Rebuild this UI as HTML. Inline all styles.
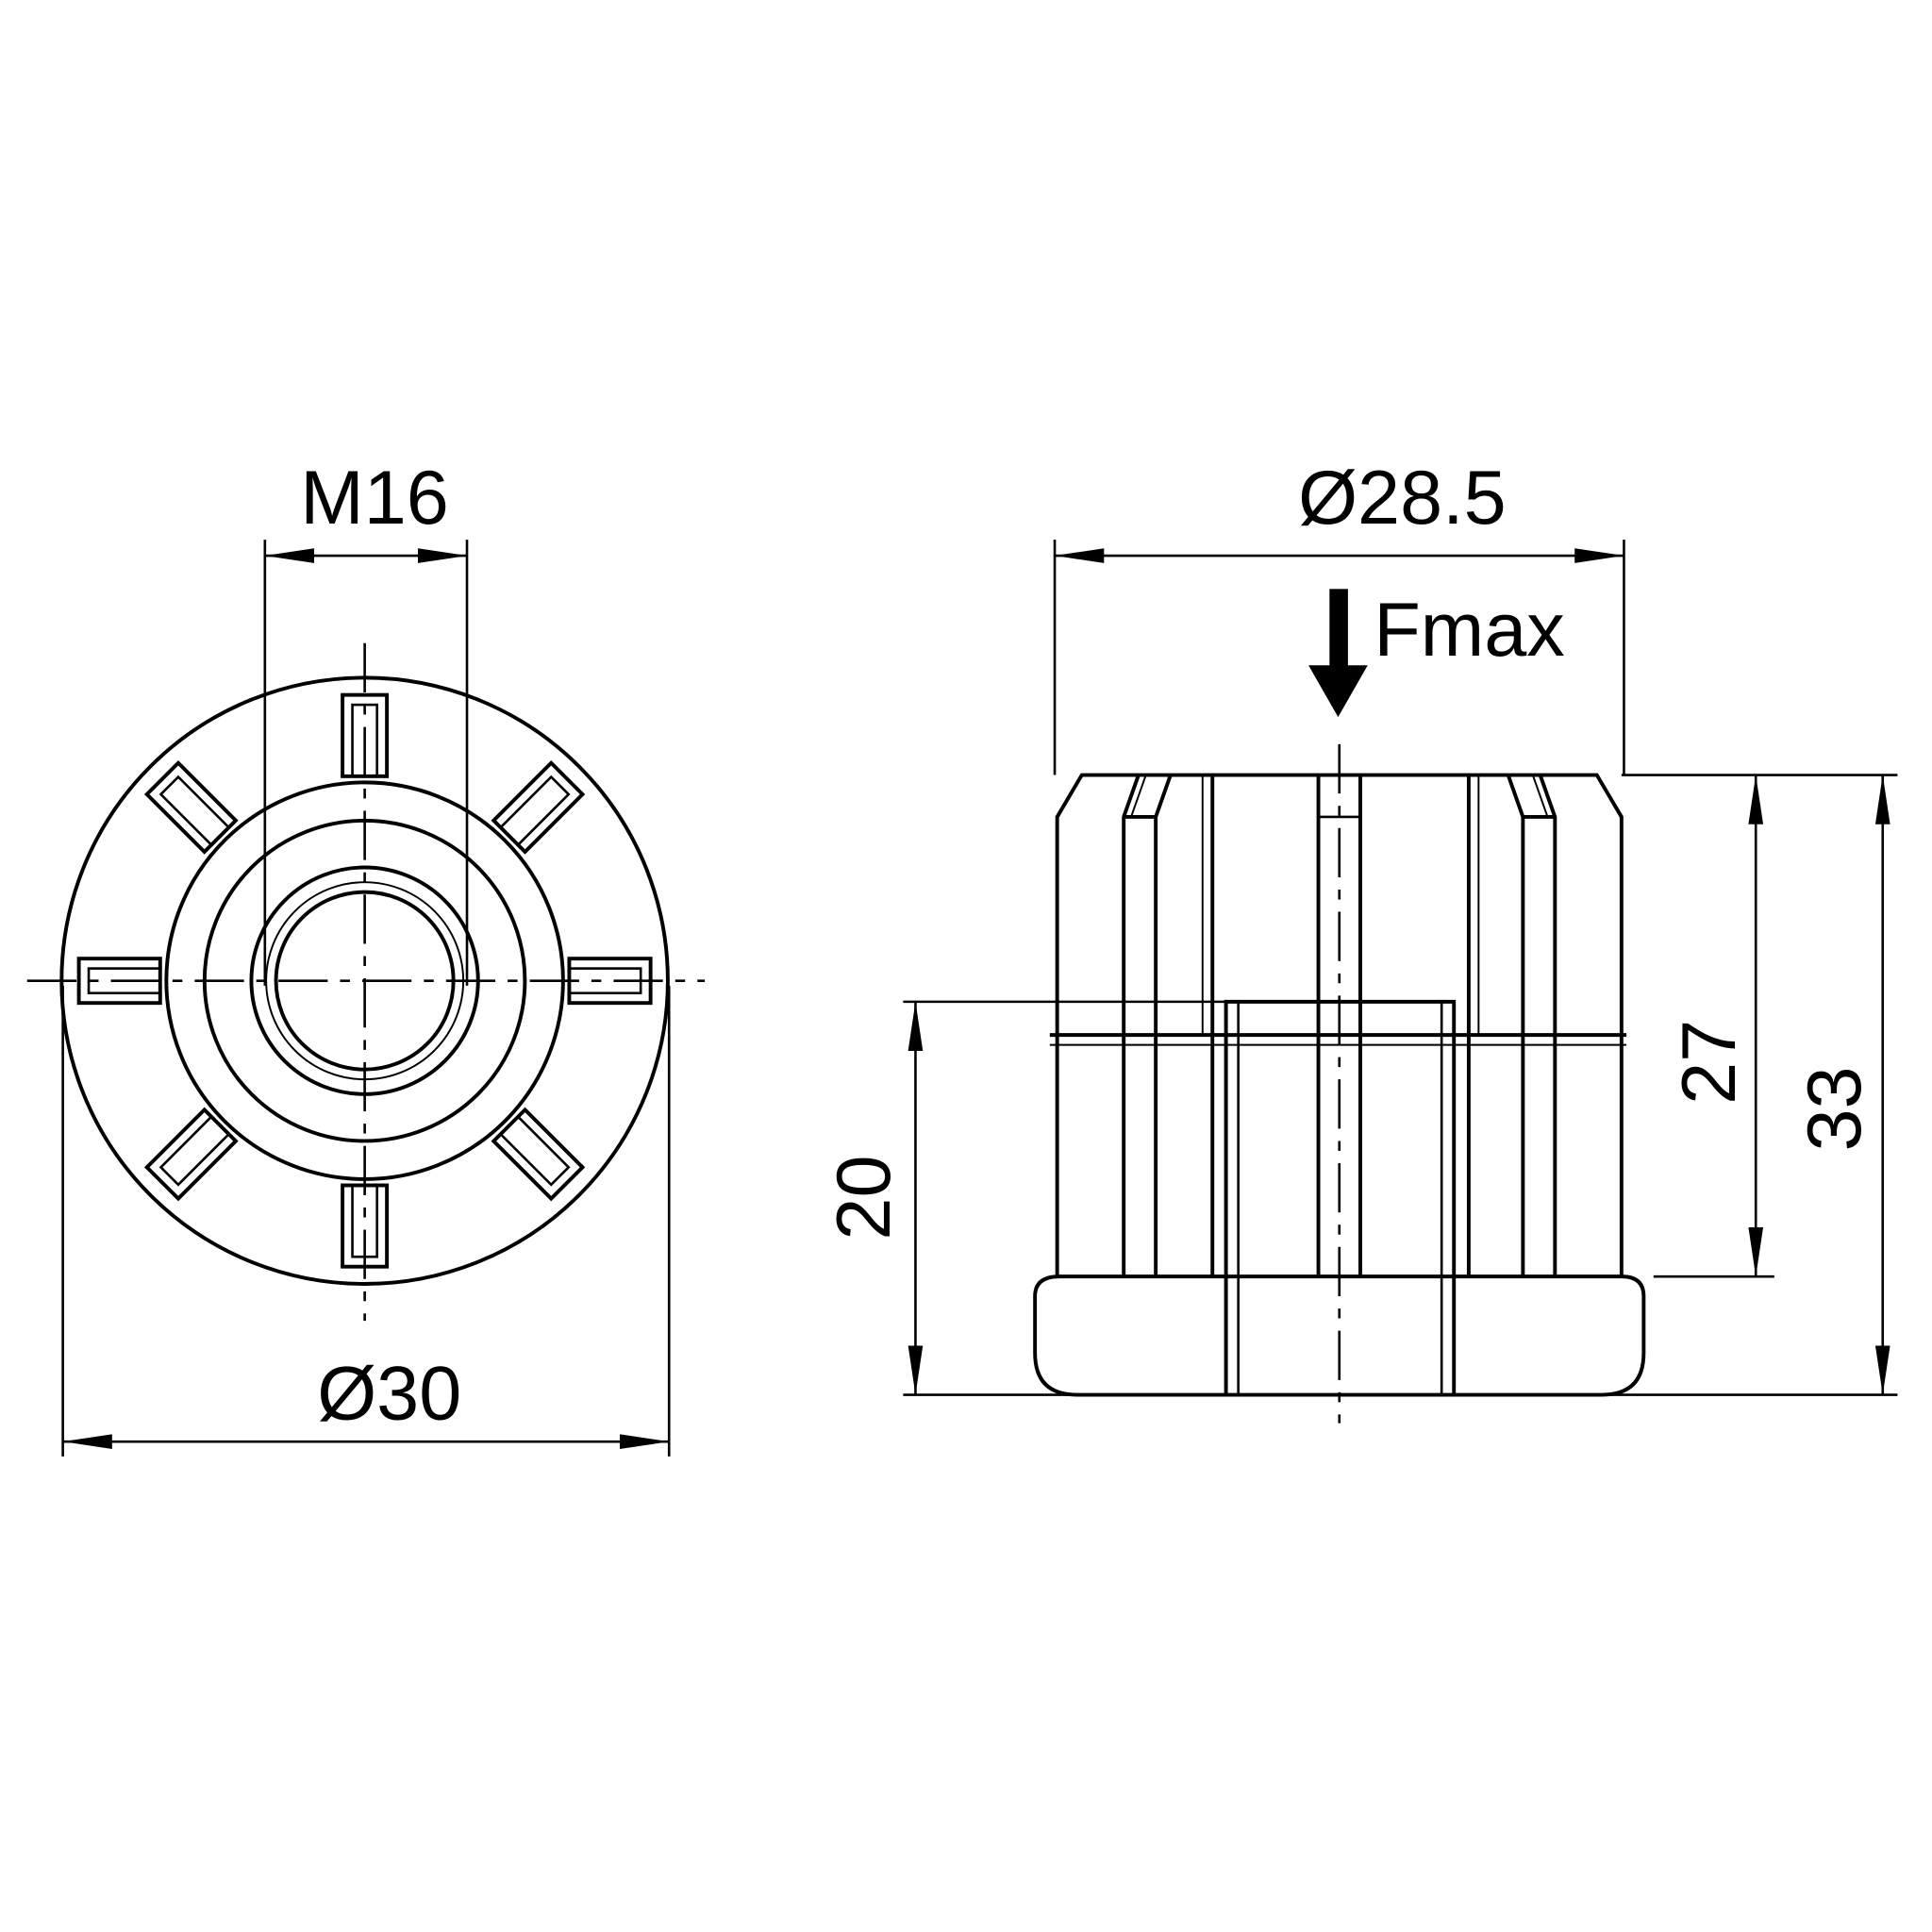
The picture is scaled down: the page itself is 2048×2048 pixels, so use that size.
<!DOCTYPE html>
<html><head><meta charset="utf-8"><style>
html,body{margin:0;padding:0;background:#fff;}
svg{display:block;}
text{font-family:"Liberation Sans","DejaVu Sans",sans-serif;fill:#000;}
</style></head><body>
<svg width="2048" height="2048" viewBox="0 0 1568 1568" xmlns="http://www.w3.org/2000/svg">
<defs>
<marker id="a" viewBox="0 0 40 12" refX="40" refY="6" markerWidth="40" markerHeight="12" markerUnits="userSpaceOnUse" orient="auto-start-reverse">
<path d="M0,0 L40,6 L0,12 Z" fill="#000"/></marker>
<g id="tab">
<rect x="-18" y="-232" width="36" height="66" fill="#fff" stroke="#000" stroke-width="3"/>
<rect x="-10" y="-224" width="20" height="58" fill="none" stroke="#000" stroke-width="2"/>
</g>
</defs>
<g fill="none" stroke="#000" stroke-width="3">
<!-- LEFT VIEW -->
<circle cx="296" cy="796" r="246"/>
<circle cx="296" cy="796" r="161"/>
<circle cx="296" cy="796" r="130"/>
<circle cx="296" cy="796" r="92"/>
<circle cx="296" cy="796" r="72"/>
<circle cx="296" cy="796" r="80" stroke-width="1.5"/>
</g>
<g transform="translate(296,796)">
<use href="#tab"/>
<use href="#tab" transform="rotate(45)"/>
<use href="#tab" transform="rotate(90)"/>
<use href="#tab" transform="rotate(135)"/>
<use href="#tab" transform="rotate(180)"/>
<use href="#tab" transform="rotate(225)"/>
<use href="#tab" transform="rotate(270)"/>
<use href="#tab" transform="rotate(315)"/>
</g>
<g stroke="#000" stroke-width="2" fill="none">
<line x1="22" y1="796" x2="572" y2="796" stroke-dasharray="40,10,8,10"/>
<line x1="296" y1="522" x2="296" y2="1072" stroke-dasharray="40,10,8,10"/>
<line x1="215" y1="438" x2="215" y2="800"/>
<line x1="379" y1="438" x2="379" y2="800"/>
<line x1="215" y1="451" x2="379" y2="451" marker-start="url(#a)" marker-end="url(#a)"/>
<line x1="51" y1="800" x2="51" y2="1182"/>
<line x1="543" y1="800" x2="543" y2="1182"/>
<line x1="51" y1="1170" x2="543" y2="1170" marker-start="url(#a)" marker-end="url(#a)"/>
</g>
<text x="304" y="425" font-size="62" text-anchor="middle">M16</text>
<text x="316" y="1152" font-size="62" text-anchor="middle">Ø30</text>

<!-- RIGHT VIEW -->
<g fill="none" stroke="#000" stroke-width="3">
<path d="M858,1036 L858,663 L878,629 L1296,629 L1316,663 L1316,1036"/>
<line x1="852" y1="840" x2="1320" y2="840"/>
<line x1="852" y1="848" x2="1320" y2="848" stroke-width="1.5"/>
<path d="M860,1036 L1316,1036 Q1334,1036 1334,1052 L1334,1098 Q1334,1132 1300,1132 L874,1132 Q840,1132 840,1098 L840,1052 Q840,1036 860,1036 Z"/>
<!-- left rib -->
<path d="M912,1036 L912,663 L924,629"/>
<path d="M938,1036 L938,663 L950,629"/>
<line x1="912" y1="663" x2="938" y2="663"/>
<line x1="930" y1="629" x2="918" y2="663" stroke-width="1.5"/>
<line x1="984" y1="629" x2="984" y2="1036"/>
<line x1="976" y1="629" x2="976" y2="840" stroke-width="1.5"/>
<!-- right rib -->
<path d="M1262,1036 L1262,663 L1250,629"/>
<path d="M1236,1036 L1236,663 L1224,629"/>
<line x1="1236" y1="663" x2="1262" y2="663"/>
<line x1="1244" y1="629" x2="1256" y2="663" stroke-width="1.5"/>
<line x1="1192" y1="629" x2="1192" y2="1036"/>
<line x1="1200" y1="629" x2="1200" y2="840" stroke-width="1.5"/>
<!-- center rib -->
<line x1="1070" y1="629" x2="1070" y2="1036"/>
<line x1="1104" y1="629" x2="1104" y2="1036"/>
<line x1="1070" y1="663" x2="1104" y2="663" stroke-width="2"/>
<!-- center window -->
<path d="M995,1132 L995,813 L1180,813 L1180,1132"/>
<line x1="1005" y1="813" x2="1005" y2="1132" stroke-width="2"/>
<line x1="1170" y1="813" x2="1170" y2="1132" stroke-width="2"/>
</g>
<g stroke="#000" stroke-width="2" fill="none">
<line x1="1087" y1="604" x2="1087" y2="1155" stroke-dasharray="40,10,8,10"/>
<line x1="856" y1="438" x2="856" y2="629"/>
<line x1="1318" y1="438" x2="1318" y2="629"/>
<line x1="856" y1="451" x2="1318" y2="451" marker-start="url(#a)" marker-end="url(#a)"/>
<line x1="733" y1="813" x2="995" y2="813"/>
<line x1="733" y1="1132" x2="1540" y2="1132"/>
<line x1="743" y1="813" x2="743" y2="1132" marker-start="url(#a)" marker-end="url(#a)"/>
<line x1="1316" y1="629" x2="1540" y2="629"/>
<line x1="1342" y1="1036" x2="1440" y2="1036"/>
<line x1="1425" y1="629" x2="1425" y2="1036" marker-start="url(#a)" marker-end="url(#a)"/>
<line x1="1528" y1="629" x2="1528" y2="1132" marker-start="url(#a)" marker-end="url(#a)"/>
</g>
<!-- Fmax arrow -->
<rect x="1079" y="478" width="15" height="64" fill="#000"/>
<path d="M1062,540 L1110,540 L1086,582 Z" fill="#000"/>
<text x="1115" y="532" font-size="62">Fmax</text>
<text x="1138" y="425" font-size="62" text-anchor="middle">Ø28.5</text>
<text transform="translate(722,972) rotate(-90)" font-size="62" text-anchor="middle">20</text>
<text transform="translate(1408,862) rotate(-90)" font-size="62" text-anchor="middle">27</text>
<text transform="translate(1510,900) rotate(-90)" font-size="62" text-anchor="middle">33</text>
</svg>
</body></html>
